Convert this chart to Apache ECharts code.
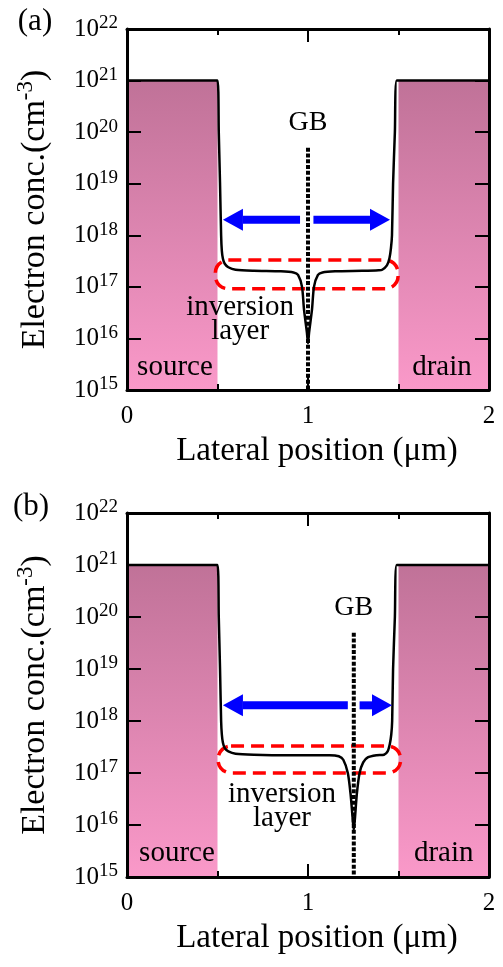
<!DOCTYPE html>
<html>
<head>
<meta charset="utf-8">
<script src="https://cdn.jsdelivr.net/npm/echarts@6/dist/echarts.min.js"></script>
<style>
  html, body { margin: 0; padding: 0; background: #fff; }
  #chart { width: 503px; height: 967px; }
</style>
</head>
<body>
<div id="chart"></div>
<script>
const FONT = 'Liberation Serif'

// ---- panel (a) ----
const curveA = [
  [0, 1e21], [0.5, 1e21], [0.507, 1e20], [0.514, 1e19], [0.52, 1e18], [0.524, 5e17],
  [0.53, 3.5e17], [0.54, 2.8e17], [0.56, 2.4e17], [0.6, 2.15e17], [0.7, 2.05e17],
  [0.85, 2.0e17], [0.92, 1.9e17], [0.945, 1.7e17], [0.967, 1.0e17], [0.978, 3.6e16],
  [0.994, 1.3e16], [1.0, 8e15], [1.006, 1.3e16], [1.022, 3.6e16], [1.033, 1.0e17],
  [1.055, 1.7e17], [1.08, 1.9e17], [1.15, 2.0e17], [1.3, 2.05e17], [1.39, 2.1e17],
  [1.41, 2.15e17], [1.436, 2.6e17], [1.45, 3.6e17], [1.458, 5.5e17], [1.464, 1e18],
  [1.47, 1e19], [1.48, 1e20], [1.49, 1e21], [2, 1e21]
]
const gbXA = 1.0
const arrowTailA = [0.956, 1.03]
const arrowTipA = [0.53, 1.453]
const boxA = [0.488, 1.498, 9.2e16, 3.3e17]
const labelXA = [0.265, 1.74, 0.625, 1.0]
const labelYA = [2.8e15, 2.8e15, 2.3e16, 1.5e20]

// ---- panel (b) ----
const curveB = [
  [0, 1e21], [0.5, 1e21], [0.507, 1e20], [0.514, 1e19], [0.52, 1e18], [0.524, 5.5e17],
  [0.53, 3.8e17], [0.54, 3.0e17], [0.56, 2.6e17], [0.6, 2.35e17], [0.7, 2.25e17],
  [0.9, 2.2e17], [1.12, 2.2e17], [1.17, 2.1e17], [1.195, 1.8e17], [1.22, 1.0e17],
  [1.235, 4e16], [1.247, 1.3e16], [1.253, 8e15], [1.259, 1.3e16], [1.27, 4e16],
  [1.285, 1.0e17], [1.305, 1.6e17], [1.33, 2.0e17], [1.38, 2.2e17], [1.42, 2.25e17],
  [1.44, 2.6e17], [1.452, 3.6e17], [1.46, 5.5e17], [1.465, 1e18], [1.47, 1e19],
  [1.48, 1e20], [1.49, 1e21], [2, 1e21]
]
const gbXB = 1.253
const arrowTailB = [1.22, 1.285]
const arrowTipB = [0.53, 1.464]
const boxB = [0.503, 1.512, 1.0e17, 3.3e17]
const labelXB = [0.276, 1.75, 0.856, 1.253]
const labelYB = [2.8e15, 2.8e15, 2.3e16, 1.5e20]

// ---- shared ----
const labelText = ['source', 'drain', 'inversion\nlayer', 'GB']
const labelSize = [29, 29, 29, 28]
const padX0 = [0, 1.5]
const padX1 = [0.5, 2]
const padTop = 1e21
const padBottom = 1e15
const gbTop = 5e19
const arrowY = 2e18

const padGradient = new echarts.graphic.LinearGradient(0, 0, 0, 1, [
  {offset: 0, color: '#c07298'},
  {offset: 1, color: '#fa99c9'}
])

const chart = echarts.init(document.getElementById('chart'), null, {renderer: 'canvas'})

const gridsPos = [
  {left: 127, top: 29, width: 362, height: 361},
  {left: 127, top: 513, width: 362, height: 364}
]

const tickStyle = {color: '#000', width: 2}

const makeX = (i, pos) => ({
  gridIndex: i,
  type: 'value',
  position: pos,
  min: 0,
  max: 2,
  interval: 1,
  z: 10,
  axisLine: {onZero: false, lineStyle: {color: '#000', width: 3}},
  axisTick: {inside: true, length: 13, lineStyle: tickStyle},
  minorTick: {show: true, splitNumber: 2, length: 6, lineStyle: tickStyle},
  splitLine: {show: false},
  axisLabel: pos === 'bottom'
    ? {margin: 14, fontSize: 25, fontFamily: FONT, color: '#000'}
    : {show: false},
  name: pos === 'bottom' ? 'Lateral position (μm)' : '',
  nameLocation: 'middle',
  nameGap: 45,
  nameTextStyle: {fontSize: 33, fontFamily: FONT, color: '#000', padding: [0, 0, 0, 18]}
})

const makeY = (i, pos) => ({
  gridIndex: i,
  type: 'log',
  logBase: 10,
  position: pos,
  min: 1e15,
  max: 1e22,
  splitNumber: 7,
  z: 10,
  axisLine: {onZero: false, lineStyle: {color: '#000', width: 3}},
  axisTick: {inside: true, length: 14, lineStyle: tickStyle},
  splitLine: {show: false},
  axisLabel: pos === 'left' ? {
    margin: 9,
    color: '#000',
    fontFamily: FONT,
    fontSize: 25,
    lineHeight: 30,
    formatter: (v) => '10{sup|' + Math.round(Math.log10(v)) + '}',
    rich: {sup: {fontSize: 19, lineHeight: 16, verticalAlign: 'top', fontFamily: FONT, color: '#000'}}
  } : {show: false},
  name: pos === 'left' ? 'Electron conc.(cm{sup|-3})' : '',
  nameLocation: 'middle',
  nameGap: 71,
  nameTextStyle: {
    fontSize: 34, lineHeight: 42, fontFamily: FONT, color: '#000',
    rich: {sup: {fontSize: 23, lineHeight: 22, verticalAlign: 'top', fontFamily: FONT, color: '#000'}}
  }
})

const makePanel = (i, curve, gbX, tails, tips, box, lx, ly) => {
  const xi = i * 2
  const yi = i * 2
  return [
    {
      type: 'custom',
      xAxisIndex: xi, yAxisIndex: yi,
      z: 1,
      data: padX0.map((x0, k) => [x0, padX1[k], padBottom, padTop]),
      encode: {x: [0, 1], y: [2, 3]},
      renderItem: (params, api) => {
        const p0 = api.coord([api.value(0), api.value(3)])
        const p1 = api.coord([api.value(1), api.value(2)])
        return {
          type: 'rect',
          shape: {x: p0[0], y: p0[1], width: p1[0] - p0[0], height: p1[1] - p0[1]},
          style: {fill: padGradient}
        }
      }
    },
    {
      type: 'custom',
      xAxisIndex: xi, yAxisIndex: yi,
      z: 3,
      data: [box],
      encode: {x: [0, 1], y: [2, 3]},
      renderItem: (params, api) => {
        const p0 = api.coord([api.value(0), api.value(3)])
        const p1 = api.coord([api.value(1), api.value(2)])
        return {
          type: 'rect',
          shape: {x: p0[0], y: p0[1], width: p1[0] - p0[0], height: p1[1] - p0[1], r: 13},
          style: {fill: 'none', stroke: '#ff0000', lineWidth: 3.5, lineDash: [13, 7]}
        }
      }
    },
    {
      type: 'line',
      xAxisIndex: xi, yAxisIndex: yi,
      z: 4,
      data: curve,
      showSymbol: false,
      smooth: 0.25,
      lineStyle: {color: '#000', width: 2.5}
    },
    {
      type: 'line',
      xAxisIndex: xi, yAxisIndex: yi,
      z: 5,
      data: [[gbX, gbTop], [gbX, padBottom]],
      showSymbol: false,
      lineStyle: {color: '#000', width: 4, type: [4, 1.8], cap: 'butt'}
    },
    {
      type: 'custom',
      xAxisIndex: xi, yAxisIndex: yi,
      z: 6,
      data: tails.map((t, k) => [t, tips[k], arrowY]),
      encode: {x: [0, 1], y: 2},
      renderItem: (params, api) => {
        const tail = api.coord([api.value(0), api.value(2)])
        const tip = api.coord([api.value(1), api.value(2)])
        const dir = Math.sign(tip[0] - tail[0])
        const base = tip[0] - dir * 20
        return {
          type: 'group',
          children: [
            {type: 'line', shape: {x1: tail[0], y1: tail[1], x2: base, y2: tip[1]},
             style: {stroke: '#0000ff', lineWidth: 8}},
            {type: 'polygon', shape: {points: [[tip[0], tip[1]], [base, tip[1] - 11], [base, tip[1] + 11]]},
             style: {fill: '#0000ff'}}
          ]
        }
      }
    },
    {
      type: 'custom',
      xAxisIndex: xi, yAxisIndex: yi,
      z: 7,
      data: lx.map((x, k) => [x, ly[k]]),
      encode: {x: 0, y: 1},
      renderItem: (params, api) => {
        const p = api.coord([api.value(0), api.value(1)])
        return {
          type: 'text',
          x: p[0], y: p[1],
          style: {
            text: labelText[params.dataIndex],
            fontFamily: FONT, fontSize: labelSize[params.dataIndex], lineHeight: 24, fill: '#000',
            align: 'center', verticalAlign: 'middle',
            textAlign: 'center', textVerticalAlign: 'middle'
          }
        }
      }
    }
  ]
}

const option = {
  animation: false,
  backgroundColor: '#fff',
  grid: gridsPos,
  xAxis: [makeX(0, 'bottom'), makeX(0, 'top'), makeX(1, 'bottom'), makeX(1, 'top')],
  yAxis: [makeY(0, 'left'), makeY(0, 'right'), makeY(1, 'left'), makeY(1, 'right')],
  graphic: [
    {type: 'text', x: 35, y: 22, style: {text: '(a)', fontFamily: FONT, fontSize: 31, fill: '#000',
      align: 'center', verticalAlign: 'middle', textAlign: 'center', textVerticalAlign: 'middle'}},
    {type: 'text', x: 31, y: 507, style: {text: '(b)', fontFamily: FONT, fontSize: 31, fill: '#000',
      align: 'center', verticalAlign: 'middle', textAlign: 'center', textVerticalAlign: 'middle'}}
  ],
  series: [
    ...makePanel(0, curveA, gbXA, arrowTailA, arrowTipA, boxA, labelXA, labelYA),
    ...makePanel(1, curveB, gbXB, arrowTailB, arrowTipB, boxB, labelXB, labelYB)
  ]
}

chart.setOption(option)
</script>
</body>
</html>
